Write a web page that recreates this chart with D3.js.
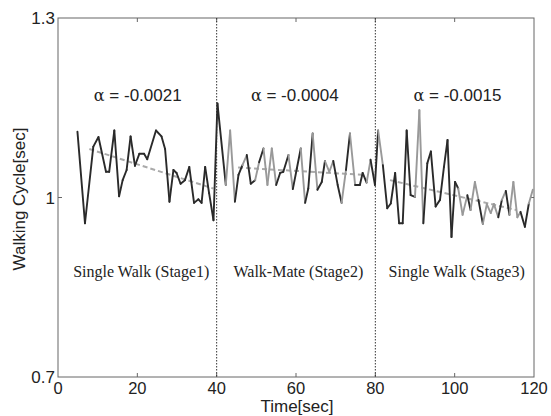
<!DOCTYPE html>
<html>
<head>
<meta charset="utf-8">
<script src="https://cdn.jsdelivr.net/npm/d3@7"></script>
<style>
  body { margin: 0; background: #fff; }
  svg { display: block; }
  .tick-label { font-family: Arial, "Liberation Sans", sans-serif; font-size: 17px; fill: #222; }
  .stage { font-family: "Liberation Serif", "Times New Roman", serif; font-size: 16px; fill: #222; }
  .alpha { font-family: Arial, "Liberation Sans", sans-serif; font-size: 17px; fill: #222; }
</style>
</head>
<body>
<svg width="551" height="416"></svg>
<script>
// --- data ---
const stage1T = [4.9, 6.8, 8.9, 10.2, 12.1, 12.9, 14.2, 15.4, 16.3, 17.3, 18.3, 19.4, 20.5, 21.7, 22.5, 24.7, 26.1, 27.0, 28.1, 29.1, 29.9, 30.9, 32.0, 33.1, 34.3, 35.4, 36.2, 37.1, 38.1, 39.2];
const stage1V = [1.110, 0.957, 1.085, 1.101, 1.043, 1.043, 1.112, 1.002, 1.029, 1.046, 1.102, 1.053, 1.073, 1.073, 1.064, 1.112, 1.102, 1.081, 0.993, 1.046, 1.041, 1.023, 1.029, 1.051, 0.991, 0.997, 0.991, 1.051, 1.007, 0.962];
const stage2T = [40.2, 42.3, 43.4, 44.6, 45.5, 46.5, 47.6, 48.6, 49.7, 50.7, 51.8, 52.8, 53.9, 55.0, 56.0, 56.8, 58.1, 59.2, 60.2, 61.2, 62.3, 63.1, 64.2, 65.4, 66.5, 67.3, 68.4, 69.4, 70.5, 71.5, 72.6, 73.6, 74.9, 76.1, 76.8, 77.8, 78.8, 79.9];
const stage2V = [1.157, 1.021, 1.112, 0.993, 1.038, 1.054, 1.071, 1.023, 1.029, 1.059, 1.082, 1.021, 1.082, 1.021, 1.041, 1.043, 1.071, 1.014, 1.048, 1.082, 0.991, 1.015, 1.107, 1.013, 1.026, 1.061, 1.043, 1.061, 1.021, 0.991, 1.046, 1.107, 1.021, 1.021, 1.041, 1.025, 1.063, 1.021];
const stage3T = [80.7, 81.9, 83.0, 83.9, 85.0, 86.0, 86.9, 87.9, 88.9, 90.0, 91.1, 92.1, 93.1, 94.0, 95.2, 96.3, 97.3, 98.2, 99.2, 100.1, 100.9, 102.0, 103.2, 104.0, 105.1, 106.0, 107.1, 108.1, 109.1, 109.9, 111.0, 111.9, 112.9, 113.8, 114.8, 115.8, 116.6, 117.7, 118.7, 119.7];
const stage3V = [1.112, 1.054, 0.982, 0.990, 1.041, 0.957, 0.957, 1.112, 1.004, 1.001, 1.146, 0.957, 1.057, 1.077, 0.985, 0.996, 1.051, 1.096, 0.934, 1.026, 1.015, 0.971, 1.004, 0.979, 1.026, 0.996, 0.956, 0.989, 0.974, 0.989, 0.967, 0.996, 1.011, 0.971, 1.026, 0.967, 0.976, 0.951, 0.990, 1.013];
// which segment of the trace is drawn light ("L") or dark ("D")
const stage1Tone = "DDDDDDDDDDDDDDDDDDDDDDDDDDDDDD";
const stage2Tone = "DLLDDLDDLDLLLDDDLDDLDDLDDLLDDLDLDDDLDD";
const stage3Tone = "LDDDDDDDDLLDDDDDDDDDLLDLLDLLLLDLDLLLDDLD";
// trend lines: [start time, start value, end time, end value]
const trend1 = [7.9, 1.081, 39.2, 1.015];
const trend2 = [45.4, 1.050, 76.6, 1.038];
const trend3 = [83.7, 1.029, 115.6, 0.979];
const alphas = ["-0.0021", "-0.0004", "-0.0015"];
const alphaCenters = [20.1, 59.7, 100.7];
const stageNames = ["Single Walk (Stage1)", "Walk-Mate (Stage2)", "Single Walk (Stage3)"];
const stageCenters = [21.0, 60.6, 100.5];
const stageBounds = [40, 80];
const xTicks = [0, 20, 40, 60, 80, 100, 120];
const yTicks = [0.7, 1, 1.3];

const svg = d3.select("svg");
const m = {left: 58, right: 534, top: 18, bottom: 377};
const x = d3.scaleLinear().domain([0, 120]).range([m.left, m.right]);
const y = d3.scaleLinear().domain([0.7, 1.3]).range([m.bottom, m.top]);

// frame
svg.append("rect").attr("x", m.left).attr("y", m.top)
  .attr("width", m.right - m.left).attr("height", m.bottom - m.top)
  .attr("fill", "none").attr("stroke", "#666").attr("stroke-width", 1);

// ticks (inward)
xTicks.forEach(t => {
  if (t > 0 && t < 120) {
    svg.append("line").attr("x1", x(t)).attr("x2", x(t)).attr("y1", m.bottom).attr("y2", m.bottom - 4).attr("stroke", "#666");
    svg.append("line").attr("x1", x(t)).attr("x2", x(t)).attr("y1", m.top).attr("y2", m.top + 4).attr("stroke", "#666");
  }
  svg.append("text").attr("class", "tick-label").attr("x", x(t)).attr("y", m.bottom + 17)
    .style("font-size", "16.5px").attr("text-anchor", "middle").text(t);
});
yTicks.forEach(v => {
  if (v > 0.7 && v < 1.3) {
    svg.append("line").attr("x1", m.left).attr("x2", m.left + 4).attr("y1", y(v)).attr("y2", y(v)).attr("stroke", "#666");
    svg.append("line").attr("x1", m.right).attr("x2", m.right - 4).attr("y1", y(v)).attr("y2", y(v)).attr("stroke", "#666");
  }
  svg.append("text").attr("class", "tick-label").attr("x", m.left - 3).attr("y", y(v) + 6)
    .attr("text-anchor", "end").text(v === 1 ? "1" : v.toFixed(1));
});

// axis titles
svg.append("text").attr("class", "tick-label").attr("x", 297).attr("y", 412)
  .attr("text-anchor", "middle").text("Time[sec]");
svg.append("text").attr("class", "tick-label")
  .attr("transform", "translate(25,199) rotate(-90)")
  .attr("text-anchor", "middle").text("Walking Cycle[sec]");

// stage separators
stageBounds.forEach(b => {
  svg.append("line").attr("x1", x(b)).attr("x2", x(b)).attr("y1", m.top).attr("y2", m.bottom)
    .attr("stroke", "#333").attr("stroke-width", 1).attr("stroke-dasharray", "1.5,1.5");
});

// trace
const allT = stage1T.concat(stage2T, stage3T);
const allV = stage1V.concat(stage2V, stage3V);
const tones = (stage1Tone + stage2Tone + stage3Tone).split("");
const segs = d3.range(allT.length - 1).map(i => ({
  x1: allT[i], y1: allV[i], x2: allT[i + 1], y2: allV[i + 1], tone: tones[i] || "D"
}));

// trends under the trace
[trend1, trend2, trend3].forEach(tr => {
  svg.append("line").attr("x1", x(tr[0])).attr("y1", y(tr[1])).attr("x2", x(tr[2])).attr("y2", y(tr[3]))
    .attr("stroke", "#aaa").attr("stroke-width", 2).attr("stroke-dasharray", "5,3");
});

svg.append("g").selectAll("line").data(segs).enter().append("line")
  .attr("x1", d => x(d.x1)).attr("y1", d => y(d.y1))
  .attr("x2", d => x(d.x2)).attr("y2", d => y(d.y2))
  .attr("stroke", d => d.tone === "L" ? "#999" : "#2a2a2a")
  .attr("stroke-width", 1.9).attr("stroke-linecap", "round");

// stage annotations
alphaCenters.forEach((c, i) => {
  const t = svg.append("text").attr("class", "alpha").attr("x", x(c)).attr("y", 101).attr("text-anchor", "middle");
  t.append("tspan").attr("font-family", "'DejaVu Serif', serif").attr("font-size", 16).text("\u03b1");
  t.append("tspan").text(" = " + alphas[i]);
});
stageCenters.forEach((c, i) => {
  svg.append("text").attr("class", "stage").attr("x", x(c)).attr("y", 277)
    .attr("text-anchor", "middle").text(stageNames[i]);
});
</script>
</body>
</html>
